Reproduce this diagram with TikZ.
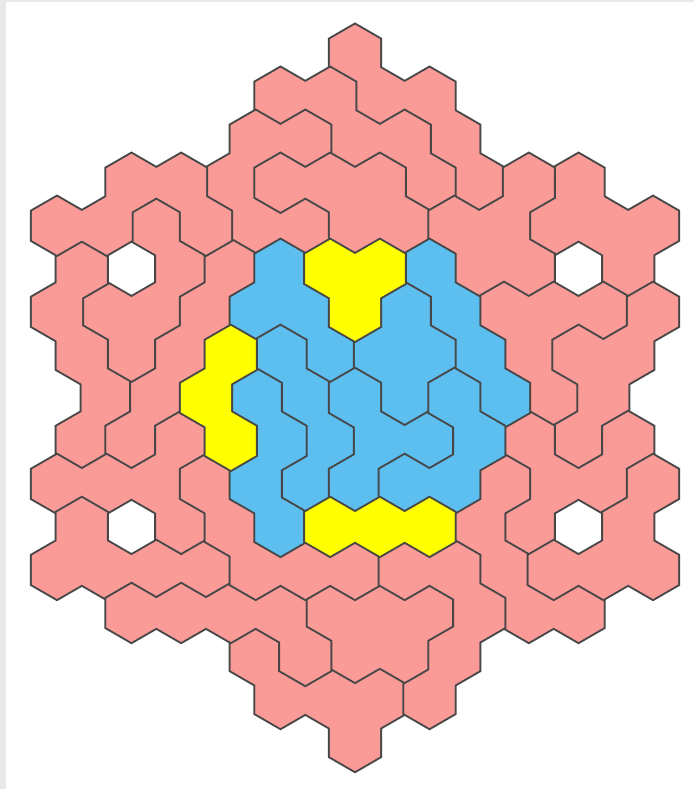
\documentclass[tikz,border=0pt]{standalone}
\definecolor{pk}{HTML}{FA9B98}
\definecolor{bl}{HTML}{5DBEF0}
\definecolor{yl}{HTML}{FFFF00}
\definecolor{edgecol}{HTML}{474747}
\newcommand\hexat[2]{({355+49.67*(#1)},{53.7+43.02*(#2)}) +(0,-28.68) -- +(24.84,-14.34) -- +(24.84,14.34) -- +(0,28.68) -- +(-24.84,14.34) -- +(-24.84,-14.34) -- cycle}
\newcommand\piece[2]{%
  \draw[line width=4.5pt, draw=edgecol, line join=miter] \foreach \o/\r in {#2} {\hexat{\o}{\r}};
  \filldraw[fill=#1, draw=#1, line width=0.5pt, line join=miter] \foreach \o/\r in {#2} {\hexat{\o}{\r}};
}
\begin{document}
\begin{tikzpicture}[x=1pt,y=-1pt]
\useasboundingbox (0,0) rectangle (694,789);
\fill[black!9] (0,0) rectangle (694,789);
\fill[white] (6,2) rectangle (694,789);
% pink pentahexes
\piece{pk}{0/0, 0.5/1, 1.5/1, 2/2, 2.5/3}
\piece{pk}{-1.5/1, -0.5/1, 0/2, 1/2, 1.5/3}
\piece{pk}{-1/2, -2/2, -2.5/3, -2/4, -1/4}
\piece{pk}{-1.5/3, -0.5/3, 0.5/3, 0/4, 1/4}
\piece{pk}{4/4, 4.5/3, 5/4, 6/4, 5.5/5}
\piece{pk}{2/4, 3/4, 3.5/3, 2.5/5, 3.5/5}
\piece{pk}{-4/4, -3.5/5, -4/6, -5/6, -4.5/7}
\piece{pk}{-5.5/5, -6/6, -5.5/7, -5/8, -5.5/9}
\piece{pk}{-2.5/5, -3/6, -3.5/7, -4/8, -4.5/9}
\piece{pk}{-3.5/9, -4/10, -5/10, -6/10, -3.5/11}
\piece{pk}{-5.5/11, -6/12, -5/12, -4/12, -3/12}
\piece{pk}{-6/4, -5/4, -4.5/3, -3.5/3, -3/4}
\piece{pk}{-0.5/13, 0.5/13, 1.5/13, 0/14, 1/14}
\piece{pk}{0/16, -0.5/15, 0.5/15, -1.5/15, -2/14}
\piece{pk}{-4.5/13, -3.5/13, -2.5/13, -1.5/13, -1/14}
\piece{pk}{-3/10, -2.5/11, -2/12, -1/12, 0/12}
\piece{pk}{3/6, 4/6, 5/6, 3.5/7, 4/8}
\piece{pk}{6/6, 5.5/7, 4.5/7, 5/8, 4.5/9}
\piece{pk}{3.5/9, 4/10, 5/10, 5.5/9, 3.5/11}
\piece{pk}{3/10, 2.5/11, 3/12, 3.5/13, 4.5/13}
\piece{pk}{6/10, 5.5/11, 6/12, 5/12, 4/12}
\piece{pk}{1/12, 2/12, 2.5/13, 2/14, 1.5/15}
% blue tetrahexes
\piece{bl}{-1.5/5, -2/6, -1/6, -0.5/7}
\piece{bl}{-1.5/7, -1/8, -0.5/9, -1/10}
\piece{bl}{-2/8, -1.5/9, -2/10, -1.5/11}
\piece{bl}{1.5/5, 2/6, 2.5/7, 3/8}
\piece{bl}{1/6, 0.5/7, 1.5/7, 1/8}
\piece{bl}{0/8, 0.5/9, 1.5/9, 0/10}
\piece{bl}{2/8, 2.5/9, 2/10, 1/10}
% yellow trihexes
\piece{yl}{-0.5/5, 0.5/5, 0/6}
\piece{yl}{-2.5/7, -3/8, -2.5/9}
\piece{yl}{-0.5/11, 0.5/11, 1.5/11}
\end{tikzpicture}
\end{document}
